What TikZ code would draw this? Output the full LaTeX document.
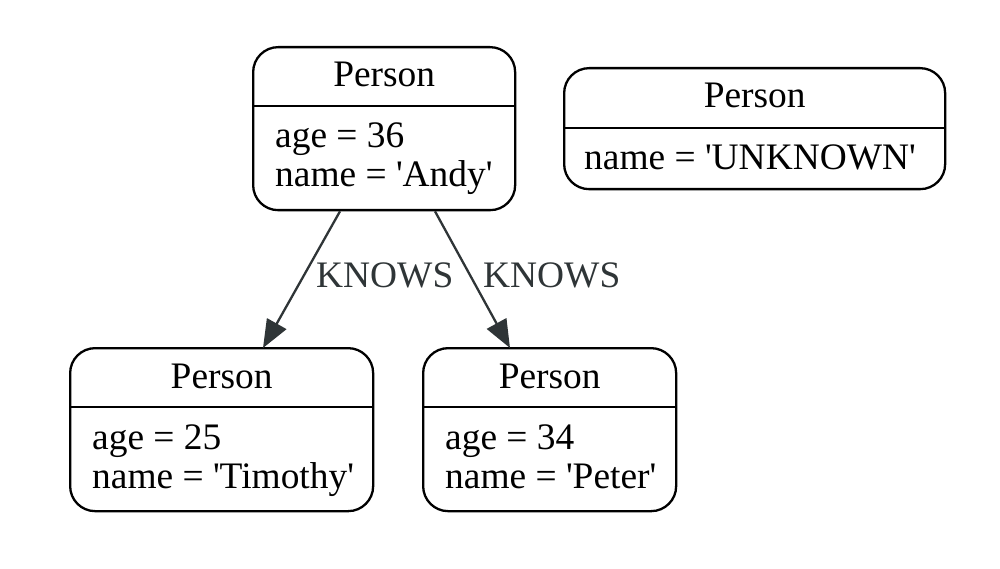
\documentclass[tikz,border=0pt]{standalone}
\usepackage{fontspec}
\setmainfont{Liberation Serif}
\usetikzlibrary{arrows.meta,calc}
\definecolor{edgecol}{HTML}{2F3537}
\newcommand{\sq}{\textquotesingle}
\tikzset{
  box/.style={draw=black, line width=2.3pt, rounded corners=25pt, inner sep=0pt, anchor=north west},
  divider/.style={draw=black, line width=2.3pt},
  txt/.style={inner sep=0pt, font=\fontsize{37.4}{40}\selectfont},
  lbl/.style={inner sep=0pt, font=\fontsize{37.4}{40}\selectfont, text=edgecol, anchor=base west},
  edge/.style={draw=edgecol, line width=2.3pt, -{Triangle[length=28pt,width=22pt]}}
}
\begin{document}
\begin{tikzpicture}[x=1pt,y=1pt]
\useasboundingbox (0,0) rectangle (1000,-569);
% Andy
\node[box, minimum width=262pt, minimum height=163pt] (andy) at (252,-46) {};
\draw[divider] ($(andy.north west)+(0,-60)$) -- ($(andy.north east)+(0,-60)$);
\node[txt, anchor=base] (andyt) at ($(andy.north)+(0,-41)$) {Person};
\node[txt, anchor=base west] (andya) at ($(andy.north west)+(23,-102)$) {age = 36};
\node[txt, anchor=base west] (andyn) at ($(andy.north west)+(23,-141)$) {name = \sq Andy\sq};
% Unknown
\node[box, minimum width=381pt, minimum height=121pt] (unk) at (563,-67) {};
\draw[divider] ($(unk.north west)+(0,-61)$) -- ($(unk.north east)+(0,-61)$);
\node[txt, anchor=base] (unkt) at ($(unk.north)+(0,-41)$) {Person};
\node[txt, anchor=base west] (unkn) at ($(unk.north west)+(21,-103)$) {name = \sq UNKNOWN\sq};
% Timothy
\node[box, minimum width=303pt, minimum height=163pt] (tim) at (69,-347) {};
\draw[divider] ($(tim.north west)+(0,-60)$) -- ($(tim.north east)+(0,-60)$);
\node[txt, anchor=base] (timt) at ($(tim.north)+(0,-41)$) {Person};
\node[txt, anchor=base west] (tima) at ($(tim.north west)+(23,-102)$) {age = 25};
\node[txt, anchor=base west] (timn) at ($(tim.north west)+(23,-141)$) {name = \sq Timothy\sq};
% Peter
\node[box, minimum width=253pt, minimum height=163pt] (pet) at (422,-347) {};
\draw[divider] ($(pet.north west)+(0,-60)$) -- ($(pet.north east)+(0,-60)$);
\node[txt, anchor=base] (pett) at ($(pet.north)+(0,-41)$) {Person};
\node[txt, anchor=base west] (peta) at ($(pet.north west)+(23,-102)$) {age = 34};
\node[txt, anchor=base west] (petn) at ($(pet.north west)+(23,-141)$) {name = \sq Peter\sq};
% Edges
\draw[edge] ($(andy.south west)+(88,0)$) -- ($(tim.north west)+(194,-1)$);
\draw[edge] ($(andy.south west)+(183,0)$) -- ($(pet.north west)+(88,-1)$);
\node[lbl] (k1) at (316,-287) {KNOWS};
\node[lbl] (k2) at (483,-287) {KNOWS};
\end{tikzpicture}
\end{document}
